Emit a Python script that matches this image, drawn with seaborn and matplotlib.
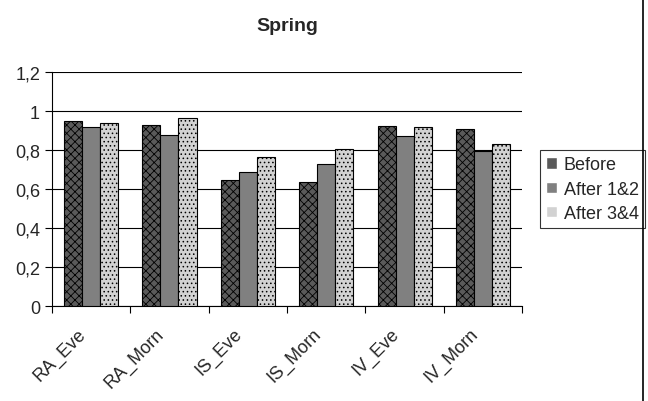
import pandas as pd
import matplotlib.pyplot as plt
import matplotlib.lines as mlines
import matplotlib.transforms as mtransforms
from matplotlib.ticker import FixedLocator, FuncFormatter
import seaborn as sns

sites = ['RA_Eve', 'RA_Morn', 'IS_Eve', 'IS_Morn', 'IV_Eve', 'IV_Morn']
before = [0.95, 0.93, 0.645, 0.635, 0.925, 0.91]
after_12 = [0.92, 0.88, 0.69, 0.73, 0.875, 0.795]
after_34 = [0.94, 0.965, 0.765, 0.805, 0.92, 0.83]
series = ['Before', 'After 1&2', 'After 3&4']

df = pd.DataFrame({
    'site': sites * 3,
    'value': before + after_12 + after_34,
    'period': [s for s in series for _ in sites],
})

sns.set_style('white')
plt.rcParams['font.family'] = ['Liberation Sans', 'DejaVu Sans']
plt.rcParams['hatch.linewidth'] = 0.6

fig = plt.figure(figsize=(6.48, 4.02), dpi=100)
ax = fig.add_axes([0.080, 0.236, 0.726, 0.582])

faces = ['#5a5a5a', '#808080', '#d2d2d2']
hatches = ['xxxx', '', '....']
sns.barplot(data=df, x='site', y='value', hue='period', hue_order=series,
            palette=faces, width=0.69, saturation=1, ax=ax, zorder=3)

for cont, h in zip(ax.containers, hatches):
    for bar in cont:
        bar.set_edgecolor('black')
        bar.set_linewidth(0.8)
        bar.set_hatch(h)

ax.set_ylim(0, 1.2)
ax.set_xlim(-0.5, 5.5)
ax.set_yticks([0, 0.2, 0.4, 0.6, 0.8, 1.0, 1.2])
ax.yaxis.set_major_formatter(FuncFormatter(lambda v, p: f'{v:g}'.replace('.', ',')))
ax.grid(axis='y', color='black', linewidth=0.8, zorder=0)
ax.set_axisbelow(True)

ax.xaxis.set_minor_locator(FixedLocator([i - 0.5 for i in range(7)]))
ax.tick_params(axis='x', which='major', length=0, pad=0)
ax.tick_params(axis='x', which='minor', length=5, width=0.8, direction='out', color='black', bottom=True)
ax.tick_params(axis='y', length=5, width=0.8, direction='out', color='black', left=True, labelsize=13)
ax.set_xticks(range(len(sites)))
ax.set_xticklabels(sites, rotation=45, ha='right', va='center', rotation_mode='anchor', fontsize=13)
shift = mtransforms.ScaledTranslation(-8 / 100, -25 / 100, fig.dpi_scale_trans)
for lab in ax.get_xticklabels():
    lab.set_transform(lab.get_transform() + shift)
ax.set_xlabel('')
ax.set_ylabel('')

for side in ['top', 'right']:
    ax.spines[side].set_visible(False)
for side in ['left', 'bottom']:
    ax.spines[side].set_color('black')
    ax.spines[side].set_linewidth(0.8)

ax.set_title('Spring', fontsize=14, fontweight='bold', pad=30)

leg = ax.legend(loc='center left', bbox_to_anchor=(1.038, 0.50), frameon=True,
                fancybox=False, handlelength=0.6, handleheight=0.6,
                handletextpad=0.35, fontsize=13, borderpad=0.35, labelspacing=0.4,
                borderaxespad=0)
leg.get_frame().set_edgecolor('black')
leg.get_frame().set_linewidth(0.8)

fig.add_artist(mlines.Line2D([0.992, 0.992], [0, 1], color='black', linewidth=1.2))

fig.savefig('out.png', dpi=100)
